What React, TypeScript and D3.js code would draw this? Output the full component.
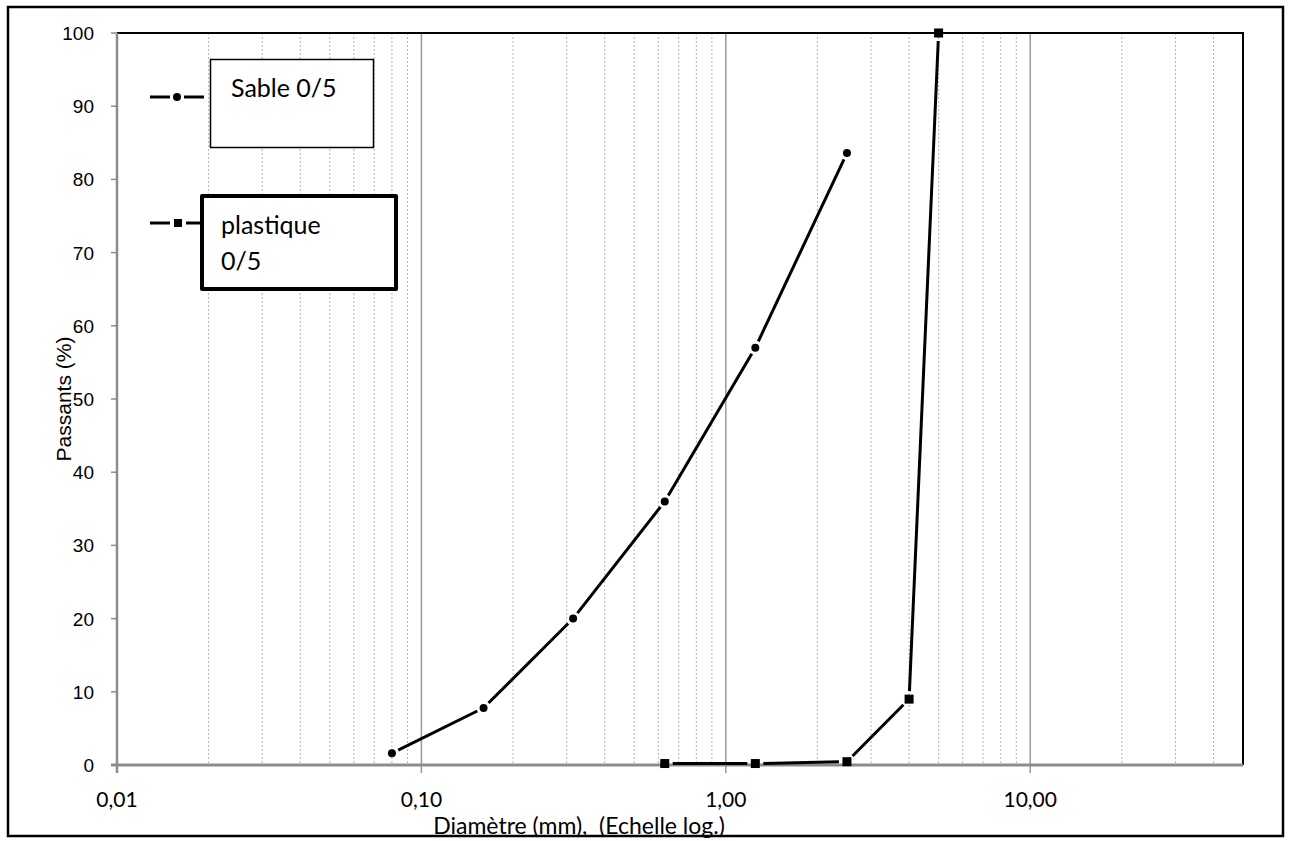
import React, { useEffect, useRef } from 'react';
import * as d3 from 'd3';

const WIDTH = 1290;
const HEIGHT = 841;

// sieve openings (mm) and passing percentages
const sableDiam = [0.08, 0.16, 0.315, 0.63, 1.25, 2.5];
const sablePass = [1.6, 7.8, 20, 36, 57, 83.6];
const plastDiam = [0.63, 1.25, 2.5, 4, 5];
const plastPass = [0.2, 0.2, 0.45, 9, 100];

const yTicks = [0, 10, 20, 30, 40, 50, 60, 70, 80, 90, 100];
const xMajor = [0.01, 0.1, 1, 10];
const xLabels = ['0,01', '0,10', '1,00', '10,00'];

const CALIBRI = 'Lato, "Open Sans", sans-serif';
const ARIAL = '"Liberation Sans", Arial, sans-serif';

export default function App() {
  const ref = useRef<SVGSVGElement | null>(null);

  useEffect(() => {
    const svg = d3.select(ref.current);
    svg.selectAll('*').remove();

    const margin = { top: 33, right: 47, bottom: 76, left: 117 };
    const x = d3.scaleLog().domain([0.01, 50]).range([margin.left, WIDTH - margin.right]);
    const y = d3.scaleLinear().domain([0, 100]).range([HEIGHT - margin.bottom, margin.top]);
    const [x0, x1] = x.range();
    const [yb, yt] = y.range();

    svg.append('rect').attr('width', WIDTH).attr('height', HEIGHT).attr('fill', '#fff');

    // outer frame
    svg.append('rect')
      .attr('x', 8).attr('y', 7).attr('width', 1275).attr('height', 829)
      .attr('fill', 'none').attr('stroke', '#000').attr('stroke-width', 2.5);

    // minor grid (dotted)
    const minor: number[] = [];
    for (let d = 0.01; d < 50; d *= 10) {
      for (let k = 2; k <= 9; k++) {
        const v = d * k;
        if (v < 50) minor.push(v);
      }
    }
    svg.append('g').selectAll('line').data(minor).enter().append('line')
      .attr('x1', (d) => x(d)).attr('x2', (d) => x(d))
      .attr('y1', yt).attr('y2', yb)
      .attr('stroke', '#b4b4b4').attr('stroke-width', 1).attr('stroke-dasharray', '2,2');

    // major grid
    svg.append('g').selectAll('line').data(xMajor.slice(1)).enter().append('line')
      .attr('x1', (d) => x(d)).attr('x2', (d) => x(d))
      .attr('y1', yt).attr('y2', yb + 8)
      .attr('stroke', '#9a9a9a').attr('stroke-width', 1.5);

    // plot frame top/right
    svg.append('path')
      .attr('d', `M${x0},${yt}H${x1}V${yb}`)
      .attr('fill', 'none').attr('stroke', '#000').attr('stroke-width', 2);

    // y axis
    svg.append('line').attr('x1', x0).attr('x2', x0).attr('y1', yt).attr('y2', yb + 8)
      .attr('stroke', '#8c8c8c').attr('stroke-width', 2.5);
    const ytG = svg.append('g').selectAll('g').data(yTicks).enter().append('g');
    ytG.append('line').attr('x1', x0 - 6).attr('x2', x0).attr('y1', (d) => y(d)).attr('y2', (d) => y(d))
      .attr('stroke', '#8c8c8c').attr('stroke-width', 1.5);
    ytG.append('text').attr('x', x0 - 23).attr('y', (d) => y(d) + 7)
      .attr('text-anchor', 'end').attr('font-family', ARIAL).attr('font-size', 19).attr('fill', '#000')
      .text((d) => String(d));

    // x axis
    svg.append('line').attr('x1', x0 - 6).attr('x2', x1).attr('y1', yb).attr('y2', yb)
      .attr('stroke', '#8c8c8c').attr('stroke-width', 3);
    svg.append('line').attr('x1', x0).attr('x2', x0).attr('y1', yb).attr('y2', yb + 7)
      .attr('stroke', '#8c8c8c').attr('stroke-width', 1.5);
    svg.append('g').selectAll('text').data(xMajor).enter().append('text')
      .attr('x', (d) => x(d)).attr('y', 807)
      .attr('text-anchor', 'middle').attr('font-family', CALIBRI).attr('font-size', 21).attr('fill', '#000')
      .text((_d, i) => xLabels[i]);

    // axis titles
    svg.append('text').attr('x', 579).attr('y', 834)
      .attr('text-anchor', 'middle').attr('font-family', CALIBRI).attr('font-size', 23).attr('fill', '#000')
      .attr('xml:space', 'preserve')
      .text('Diamètre (mm),  (Echelle log.)');
    svg.append('text')
      .attr('transform', `translate(71,${y(50)}) rotate(-90)`)
      .attr('text-anchor', 'middle').attr('font-family', ARIAL).attr('font-size', 21).attr('fill', '#000')
      .text('Passants (%)');

    // series with small gaps around markers
    const drawSeries = (xs: number[], ys: number[], gap: number) => {
      const pts = xs.map((d, i) => [x(d), y(ys[i])]);
      const g = svg.append('g');
      for (let i = 0; i < pts.length - 1; i++) {
        const [ax, ay] = pts[i];
        const [bx, by] = pts[i + 1];
        const len = Math.hypot(bx - ax, by - ay);
        const ux = (bx - ax) / len;
        const uy = (by - ay) / len;
        g.append('line')
          .attr('x1', ax + ux * gap).attr('y1', ay + uy * gap)
          .attr('x2', bx - ux * gap).attr('y2', by - uy * gap)
          .attr('stroke', '#000').attr('stroke-width', 3);
      }
      return { g, pts };
    };

    const s = drawSeries(sableDiam, sablePass, 7);
    s.g.selectAll('circle').data(s.pts).enter().append('circle')
      .attr('cx', (d) => d[0]).attr('cy', (d) => d[1]).attr('r', 4).attr('fill', '#000');

    const p = drawSeries(plastDiam, plastPass, 8);
    p.g.selectAll('rect').data(p.pts).enter().append('rect')
      .attr('x', (d) => d[0] - 4.5).attr('y', (d) => d[1] - 4.5)
      .attr('width', 9).attr('height', 9).attr('fill', '#000');

    // legend
    const lg = svg.append('g');
    lg.append('line').attr('x1', 150).attr('x2', 170).attr('y1', 97).attr('y2', 97).attr('stroke', '#000').attr('stroke-width', 3);
    lg.append('line').attr('x1', 184).attr('x2', 204).attr('y1', 97).attr('y2', 97).attr('stroke', '#000').attr('stroke-width', 3);
    lg.append('circle').attr('cx', 177).attr('cy', 97).attr('r', 4).attr('fill', '#000');
    lg.append('rect').attr('x', 210.5).attr('y', 59.5).attr('width', 163).attr('height', 88)
      .attr('fill', '#fff').attr('stroke', '#000').attr('stroke-width', 1.5);
    lg.append('text').attr('x', 231).attr('y', 97).attr('font-family', CALIBRI).attr('font-size', 25).attr('fill', '#000')
      .text('Sable 0/5');

    lg.append('line').attr('x1', 150).attr('x2', 170).attr('y1', 223).attr('y2', 223).attr('stroke', '#000').attr('stroke-width', 3);
    lg.append('line').attr('x1', 186).attr('x2', 202).attr('y1', 223).attr('y2', 223).attr('stroke', '#000').attr('stroke-width', 3);
    lg.append('rect').attr('x', 174).attr('y', 219).attr('width', 8).attr('height', 8).attr('fill', '#000');
    lg.append('rect').attr('x', 202).attr('y', 196).attr('width', 194).attr('height', 93)
      .attr('fill', '#fff').attr('stroke', '#000').attr('stroke-width', 4).attr('stroke-linejoin', 'round');
    lg.append('text').attr('x', 221).attr('y', 234).attr('font-family', CALIBRI).attr('font-size', 25).attr('fill', '#000')
      .text('plastique');
    lg.append('text').attr('x', 221).attr('y', 270).attr('font-family', CALIBRI).attr('font-size', 25).attr('fill', '#000')
      .text('0/5');
  }, []);

  return (
    <svg
      ref={ref}
      width={WIDTH}
      height={HEIGHT}
      style={{ position: 'absolute', left: 0, top: 0, display: 'block' }}
    />
  );
}
